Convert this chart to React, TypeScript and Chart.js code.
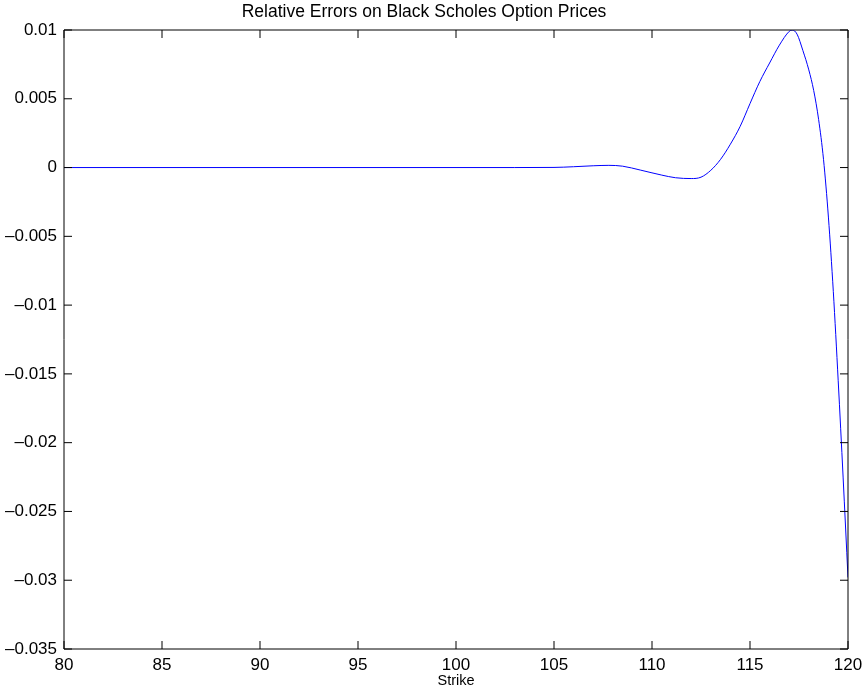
import React, { useEffect, useRef } from "react";
import { Chart, registerables } from "chart.js";

Chart.register(...registerables);

const TITLE = "Relative Errors on Black Scholes Option Prices";
const X_LABEL = "Strike";

const strikes = [
  80, 85, 90, 95, 100, 103, 105, 106, 107, 107.8, 108.5, 109.4, 110.5, 111.2, 112.0, 112.5,
  113.0, 113.5, 114.0, 114.5, 115.0, 115.5, 116.0, 116.5, 117.0, 117.15, 117.4, 117.7, 118.0,
  118.25, 118.5, 118.75, 119.0, 119.25, 119.5, 119.75, 120,
];
const relErrors = [
  0, 0, 0, 0, 0, 0, 0.00001, 0.00006, 0.00013, 0.00016, 0.0001, -0.00018, -0.00055, -0.00074,
  -0.0008, -0.0007, -0.0002, 0.0006, 0.0017, 0.003, 0.00465, 0.00625, 0.0076, 0.0089, 0.0099,
  0.01, 0.0097, 0.0085, 0.0071, 0.0056, 0.0035, 0.0006, -0.0036, -0.009, -0.0155, -0.0225,
  -0.0298,
];

const xTicks = [80, 85, 90, 95, 100, 105, 110, 115, 120];
const yTicks = [-0.035, -0.03, -0.025, -0.02, -0.015, -0.01, -0.005, 0, 0.005, 0.01];

const FONT = "'Liberation Sans', Arial, sans-serif";

const boxPlugin = {
  id: "matlabBox",
  afterDatasetsDraw(chart: any) {
    const { ctx, chartArea } = chart;
    const { left, right, top, bottom } = chartArea;
    const xs = chart.scales.x;
    const ys = chart.scales.y;
    const tl = 8;
    ctx.save();
    ctx.strokeStyle = "#000";
    ctx.lineWidth = 1;
    ctx.beginPath();
    ctx.rect(left, top, right - left, bottom - top);
    ctx.stroke();
    ctx.beginPath();
    xTicks.forEach((v) => {
      const px = xs.getPixelForValue(v);
      ctx.moveTo(px, bottom);
      ctx.lineTo(px, bottom - tl);
      ctx.moveTo(px, top);
      ctx.lineTo(px, top + tl);
    });
    yTicks.forEach((v) => {
      const py = ys.getPixelForValue(v);
      ctx.moveTo(left, py);
      ctx.lineTo(left + tl, py);
      ctx.moveTo(right, py);
      ctx.lineTo(right - tl, py);
    });
    ctx.stroke();
    ctx.restore();
  },
};

function fmt(v: number) {
  const r = Math.round(v * 1000) / 1000;
  const s = String(Math.abs(r));
  return r < 0 ? "\u2013" + s : s;
}

export default function App() {
  const ref = useRef<HTMLCanvasElement | null>(null);
  useEffect(() => {
    document.body.style.margin = "0";
    const canvas = ref.current!;
    const chart = new Chart(canvas, {
      type: "line",
      data: {
        datasets: [
          {
            data: strikes.map((x, i) => ({ x, y: relErrors[i] })),
            borderColor: "#0000ff",
            borderWidth: 1,
            pointRadius: 0,
            fill: false,
            cubicInterpolationMode: "monotone",
          },
        ],
      },
      options: {
        animation: false,
        responsive: false,
        devicePixelRatio: 1,
        layout: { padding: { left: 0, right: 16, top: 0, bottom: 0 } },
        plugins: {
          legend: { display: false },
          tooltip: { enabled: false },
          title: {
            display: true,
            text: TITLE,
            color: "#000",
            font: { family: FONT, size: 17.5, weight: "normal", lineHeight: 1.2 },
            padding: { top: 2, bottom: 7 },
          },
        },
        scales: {
          x: {
            type: "linear",
            min: 80,
            max: 120,
            afterBuildTicks: (s: any) => {
              s.ticks = xTicks.map((v) => ({ value: v }));
            },
            afterFit: (s: any) => {
              s.height = 46;
              s.paddingLeft = 0;
              s.paddingRight = 0;
            },
            grid: { display: false, drawTicks: false },
            border: { display: false },
            ticks: {
              autoSkip: false,
              maxRotation: 0,
              color: "#000",
              padding: 6,
              font: { family: FONT, size: 17 },
              callback: (v: any) => fmt(Number(v)),
            },
            title: {
              display: true,
              text: X_LABEL,
              color: "#000",
              font: { family: FONT, size: 14.5, lineHeight: 1.2 },
              padding: { top: 0, bottom: 5 },
            },
          },
          y: {
            type: "linear",
            min: -0.035,
            max: 0.01,
            afterBuildTicks: (s: any) => {
              s.ticks = yTicks.map((v) => ({ value: v }));
            },
            afterFit: (s: any) => {
              s.width = 64;
            },
            grid: { display: false, drawTicks: false },
            border: { display: false },
            ticks: {
              autoSkip: false,
              color: "#000",
              padding: 7,
              font: { family: FONT, size: 17 },
              callback: (v: any) => fmt(Number(v)),
            },
          },
        },
      },
      plugins: [boxPlugin],
    } as any);
    return () => chart.destroy();
  }, []);
  return (
    <canvas
      ref={ref}
      width={864}
      height={695}
      style={{ display: "block", width: 864, height: 695 }}
    />
  );
}
